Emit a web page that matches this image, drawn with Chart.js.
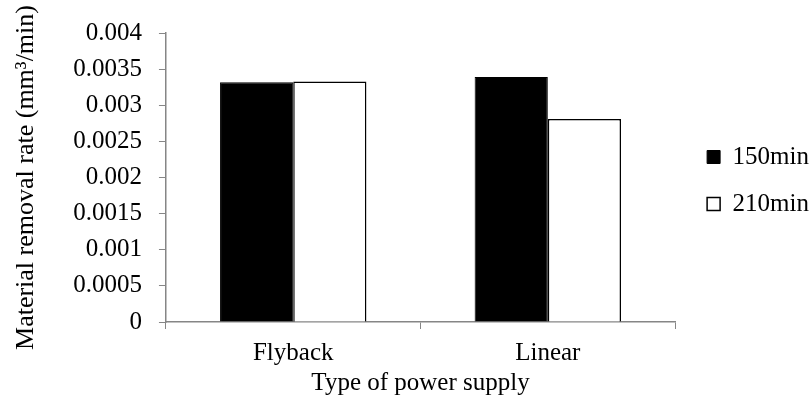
<!DOCTYPE html>
<html>
<head>
<meta charset="utf-8">
<script src="https://cdn.jsdelivr.net/npm/chart.js@4.4.1/dist/chart.umd.min.js"></script>
<style>
    html, body { margin: 0; padding: 0; background: #ffffff; }
    #wrap { width: 811px; height: 405px; }
</style>
</head>
<body>
<div id="wrap"><canvas id="mrr-chart" width="811" height="405"></canvas></div>
<script>
// Data
const categories = ['Flyback', 'Linear'];
const seriesNames = ['150min', '210min'];
const values150 = [0.00332, 0.00339];
const values210 = [0.00333, 0.00281];
const yTickValues = [0, 0.0005, 0.001, 0.0015, 0.002, 0.0025, 0.003, 0.0035, 0.004];

const axisColor = '#868686';
const fontFamily = "'Liberation Serif', 'Times New Roman', serif";
const fontSize = 25;

// Nudge the legend so it sits next to the plot like in the reference
const legendOffset = {
    id: 'legendOffset',
    afterLayout(chart) {
        const lg = chart.legend;
        if (!lg) return;
        lg.left += 10; lg.right += 10;
        lg.top -= 34; lg.bottom -= 34;
    }
};

const ctx = document.getElementById('mrr-chart');

new Chart(ctx, {
    type: 'bar',
    data: {
        labels: categories,
        datasets: [{
            label: seriesNames[0],
            data: values150,
            backgroundColor: '#000000',
            borderColor: '#000000',
            borderWidth: 1,
            categoryPercentage: 0.575,
            barPercentage: 1.0
        }, {
            label: seriesNames[1],
            data: values210,
            backgroundColor: '#ffffff',
            borderColor: '#000000',
            borderWidth: 1.5,
            categoryPercentage: 0.575,
            barPercentage: 1.0
        }]
    },
    plugins: [legendOffset],
    options: {
        responsive: false,
        animation: false,
        layout: {
            padding: { top: 33, right: 2, bottom: 9, left: 11 }
        },
        plugins: {
            legend: {
                position: 'right',
                labels: {
                    color: '#000000',
                    boxWidth: 13,
                    boxHeight: 13,
                    padding: 22,
                    font: { family: fontFamily, size: fontSize }
                }
            },
            tooltip: { enabled: false }
        },
        scales: {
            x: {
                grid: {
                    offset: true,
                    drawOnChartArea: false,
                    drawTicks: true,
                    tickLength: 7,
                    color: axisColor
                },
                border: { color: axisColor, width: 1.5 },
                ticks: {
                    color: '#000000',
                    padding: 9,
                    font: { family: fontFamily, size: fontSize }
                },
                title: {
                    display: true,
                    text: 'Type of power supply',
                    color: '#000000',
                    padding: { top: -6, bottom: 0 },
                    font: { family: fontFamily, size: fontSize, lineHeight: 1 }
                }
            },
            y: {
                min: 0,
                max: 0.004,
                afterBuildTicks: function(axis) {
                    axis.ticks = yTickValues.map(v => ({ value: v }));
                },
                grid: {
                    drawOnChartArea: false,
                    drawTicks: true,
                    tickLength: 7,
                    color: axisColor
                },
                border: { color: axisColor, width: 1.5 },
                ticks: {
                    color: '#000000',
                    padding: 17,
                    font: { family: fontFamily, size: fontSize },
                    callback: function(value) {
                        return String(+value.toFixed(4));
                    }
                },
                title: {
                    display: true,
                    text: 'Material removal rate (mm\u00B3/min)',
                    color: '#000000',
                    padding: { top: 0, bottom: 14 },
                    font: { family: fontFamily, size: 26 }
                }
            }
        }
    }
});
</script>
</body>
</html>
